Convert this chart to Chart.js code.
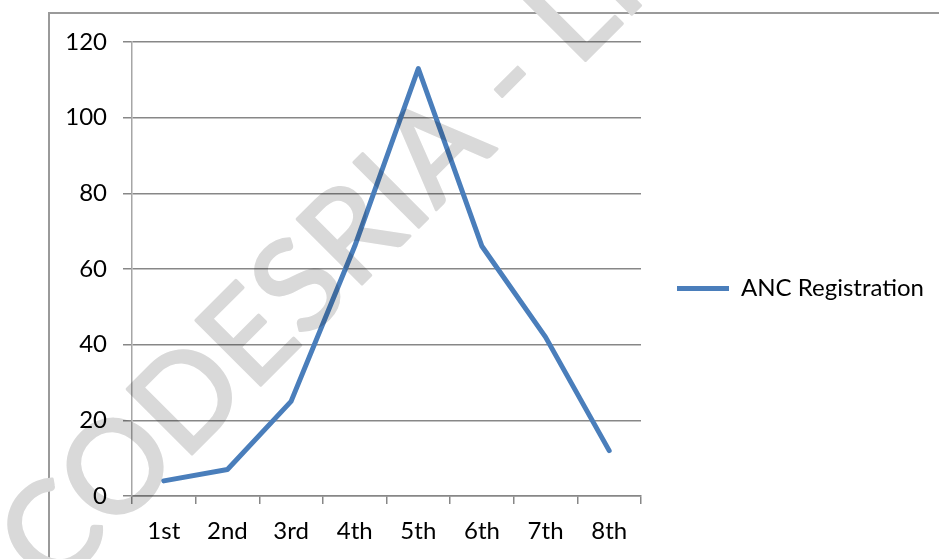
<!DOCTYPE html>
<html>
<head>
<meta charset="utf-8">
<script src="https://cdn.jsdelivr.net/npm/chart.js@4.4.0/dist/chart.umd.min.js"></script>
<style>
  body { margin: 0; background: #fff; }
  #wrap { position: relative; width: 939px; height: 559px; overflow: hidden; }
  #frame { position: absolute; left: 48px; top: 12px; width: 891px; height: 560px;
           border-top: 2px solid #9a9a9a; border-left: 2px solid #9a9a9a; }
  #myChart { position: absolute; left: 0; top: 0; }
</style>
</head>
<body>
<div id="wrap">
  <div id="frame"></div>
  <canvas id="myChart" width="939" height="559"></canvas>
</div>
<script>
'use strict'

const categories = ['1st', '2nd', '3rd', '4th', '5th', '6th', '7th', '8th'];
const ancRegistration = [4, 7, 25, 66, 113, 66, 42, 12];
const yTicks = [0, 20, 40, 60, 80, 100, 120];
const seriesName = 'ANC Registration';
const watermark = 'CODESRIA - LIBRARY';

const labelFont = { family: 'Lato', size: 24 };
const gridGray = '#878787';

// light gray stamp multiplied over the whole chart
const watermarkPlugin = {
  id: 'watermark',
  afterDraw(chart) {
    const off = document.createElement('canvas');
    off.width = chart.width;
    off.height = chart.height;
    const o = off.getContext('2d');
    o.translate(52, 594);
    o.rotate(-Math.PI / 4);
    o.font = '128px Lato';
    o.fillStyle = '#d9d9d9';
    o.strokeStyle = '#d9d9d9';
    o.lineWidth = 3;
    o.lineJoin = 'round';
    o.strokeText(watermark, 0, 0);
    o.fillText(watermark, 0, 0);

    const ctx = chart.ctx;
    ctx.save();
    ctx.globalCompositeOperation = 'multiply';
    ctx.drawImage(off, 0, 0);
    ctx.restore();
  }
};

let ctx = document.getElementById('myChart').getContext('2d');
let chart = new Chart(ctx, {
  type: 'line',
  data: {
    labels: categories,
    datasets: [{
      label: seriesName,
      data: ancRegistration,
      borderColor: '#4a7ebb',
      backgroundColor: '#4a7ebb',
      borderWidth: 5,
      borderCapStyle: 'round',
      borderJoinStyle: 'round',
      pointRadius: 0,
      tension: 0
    }]
  },
  options: {
    responsive: false,
    animation: false,
    layout: { padding: { left: 0, top: 42, right: 0, bottom: 0 } },
    plugins: {
      tooltip: { enabled: false },
      legend: {
        position: 'right',
        labels: {
          font: labelFont,
          color: '#000',
          padding: 36,
          boxWidth: 52,
          boxHeight: 5,
          generateLabels(chart) {
            return chart.data.datasets.map((ds, i) => ({
              text: ds.label,
              fillStyle: ds.borderColor,
              strokeStyle: ds.borderColor,
              lineWidth: 0,
              fontColor: '#000',
              datasetIndex: i
            }));
          }
        }
      }
    },
    scales: {
      x: {
        offset: true,
        afterFit(axis) { axis.height = 63; },
        grid: {
          offset: true,
          drawOnChartArea: false,
          drawTicks: true,
          tickLength: 8,
          color: gridGray,
          lineWidth: 1.5
        },
        border: { display: true, color: gridGray, width: 1.5 },
        ticks: { font: labelFont, color: '#000', padding: 13, maxRotation: 0 }
      },
      y: {
        min: 0,
        max: 120,
        afterFit(axis) { axis.width = 132; },
        afterBuildTicks(axis) { axis.ticks = yTicks.map(v => ({ value: v })); },
        grid: {
          color: gridGray,
          lineWidth: 1.5,
          tickLength: 9
        },
        border: { display: true, color: '#a6a6a6', width: 1.5 },
        ticks: { font: labelFont, color: '#000', padding: 16 }
      }
    }
  },
  plugins: [watermarkPlugin, {
    id: 'legendBox',
    afterInit(chart) {
      // keep the plot's right edge where the reference has it
      const legend = chart.legend;
      const fit = legend.fit.bind(legend);
      legend.fit = function () { fit(); this.width = 298; };
    },
    afterLayout(chart) {
      // legend centred a little above the full height, as in the reference
      chart.legend.bottom = 535;
      chart.legend.height = chart.legend.bottom - chart.legend.top;
    }
  }]
});
</script>
</body>
</html>
